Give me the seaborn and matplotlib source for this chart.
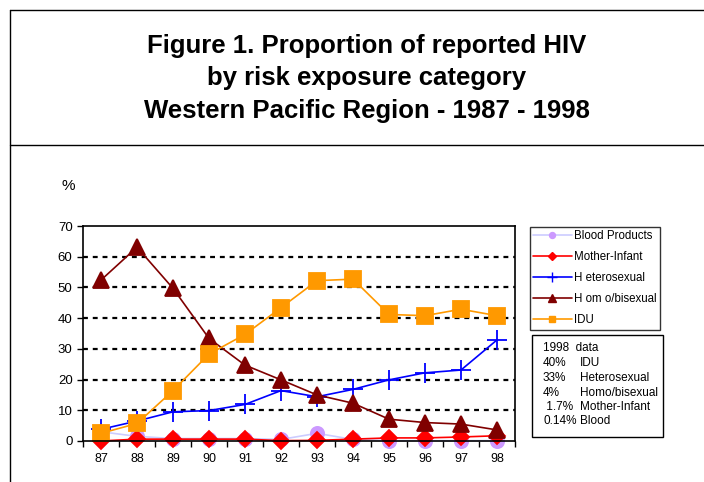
import numpy as np
import pandas as pd
import matplotlib.pyplot as plt
import seaborn as sns
from matplotlib.lines import Line2D
from matplotlib.patches import Rectangle

years = ['87', '88', '89', '90', '91', '92', '93', '94', '95', '96', '97', '98']
blood = [3.0, 1.5, 0.8, 0.8, 0.8, 0.5, 2.5, 0.5, 0.1, 0.1, 0.1, 0.14]
mother = [0.0, 0.6, 0.6, 0.6, 0.6, 0.1, 0.2, 0.6, 1.0, 1.0, 1.3, 1.7]
hetero = [3.8, 6.5, 9.5, 9.9, 11.9, 16.4, 14.4, 16.8, 19.9, 22.2, 23.1, 32.9]
homo = [52.4, 63.1, 49.7, 33.4, 24.7, 19.9, 15.0, 12.3, 7.1, 6.0, 5.5, 3.6]
idu = [2.5, 5.7, 16.4, 28.3, 34.7, 43.4, 52.2, 52.7, 41.2, 40.8, 42.9, 40.8]

series_names = ['Blood Products', 'Mother-Infant', 'H eterosexual', 'H om o/bisexual', 'IDU']
box_nums = ['40%', '33%', '4%', ' 1.7%', '0.14%']
box_labels = ['IDU', 'Heterosexual', 'Homo/bisexual', 'Mother-Infant', 'Blood']

sns.set_style('white')
plt.rcParams['font.family'] = ['Liberation Sans', 'DejaVu Sans']
plt.rcParams['text.color'] = 'black'
plt.rcParams['xtick.color'] = 'black'
plt.rcParams['ytick.color'] = 'black'

fig = plt.figure(figsize=(7.04, 4.82), dpi=100)
ax = fig.add_axes([0.1179, 0.0851, 0.6136, 0.446])

# series styles: line colour, marker, marker colour, marker size
styles = [
    ('#ccccff', 'o', '#cc99ff', 9.5),
    ('#ff0000', 'D', '#ff0000', 8.5),
    ('#0000ff', '+', '#0000ff', 15),
    ('#800000', '^', '#800000', 11.5),
    ('#ff9900', 's', '#ff9900', 11),
]
data = [blood, mother, hetero, homo, idu]

handles = []
for vals, name, (lc, mk, mc, ms) in zip(data, series_names, styles):
    df = pd.DataFrame({'year': years, 'pct': vals})
    sns.lineplot(data=df, x='year', y='pct', ax=ax, color=lc, lw=1.2,
                 marker=mk, markersize=ms, markerfacecolor=mc,
                 markeredgecolor=mc, markeredgewidth=1.3, legend=False,
                 clip_on=False)
    handles.append(Line2D([], [], color=lc, lw=1.2, marker=mk,
                          markersize=ms * 0.45, markerfacecolor=mc,
                          markeredgecolor=mc, label=name))

ax.set_xlim(-0.5, 11.5)
ax.set_ylim(0, 70)
ax.set_yticks(range(0, 71, 10))
for y in range(10, 70, 10):
    ax.axhline(y, color='black', lw=1.6, ls=(0, (2.2, 2.2)), zorder=0)
ax.set_xlabel('')
ax.set_ylabel('')
ax.set_xticks(range(12))
ax.set_xticklabels(years)
ax.set_xticks(np.arange(-0.5, 12, 1), minor=True)
ax.tick_params(axis='x', which='major', length=0, labelsize=9, pad=9)
ax.tick_params(axis='x', which='minor', length=4, width=1, direction='out', bottom=True)
ax.tick_params(axis='y', length=4, width=1, direction='out', left=True, labelsize=9.5)
for s in ax.spines.values():
    s.set_color('black')
    s.set_linewidth(1.2)

fig.text(62 / 704, 1 - 186 / 482, '%', fontsize=11, ha='left', va='center')

leg = fig.legend(handles=handles, loc='upper left',
                 bbox_to_anchor=(530 / 704, 1 - 227 / 482),
                 frameon=True, fancybox=False, fontsize=8.3,
                 handlelength=3.3, handletextpad=0.25, labelspacing=0.78,
                 borderpad=0.3, borderaxespad=0)
leg.get_frame().set_edgecolor('black')
leg.get_frame().set_linewidth(1)

# 1998 data box
fig.patches.append(Rectangle((532 / 704, 1 - 437 / 482), 131 / 704, 102 / 482,
                             transform=fig.transFigure, fill=False,
                             edgecolor='black', lw=1))
fig.text(543 / 704, 1 - 348 / 482, '1998  data', fontsize=8.5, va='center')
for i, (n, l) in enumerate(zip(box_nums, box_labels)):
    y = 1 - (363.5 + i * 14.5) / 482
    fig.text(543 / 704, y, n, fontsize=8.5, va='center')
    fig.text(580 / 704, y, l, fontsize=8.5, va='center')

# title and frame
title_lines = ['Figure 1. Proportion of reported HIV',
               'by risk exposure category',
               'Western Pacific Region - 1987 - 1998']
for i, t in enumerate(title_lines):
    fig.text(367 / 704, 1 - (46 + i * 32.5) / 482, t, fontsize=18.5,
             fontweight='bold', ha='center', va='center')

fig.add_artist(Line2D([10 / 704, 1], [1 - 10 / 482, 1 - 10 / 482], color='black', lw=1, transform=fig.transFigure))
fig.add_artist(Line2D([10 / 704, 10 / 704], [0, 1 - 10 / 482], color='black', lw=1, transform=fig.transFigure))
fig.add_artist(Line2D([10 / 704, 1], [1 - 145 / 482, 1 - 145 / 482], color='black', lw=1, transform=fig.transFigure))

plt.savefig('out.png', dpi=100)
